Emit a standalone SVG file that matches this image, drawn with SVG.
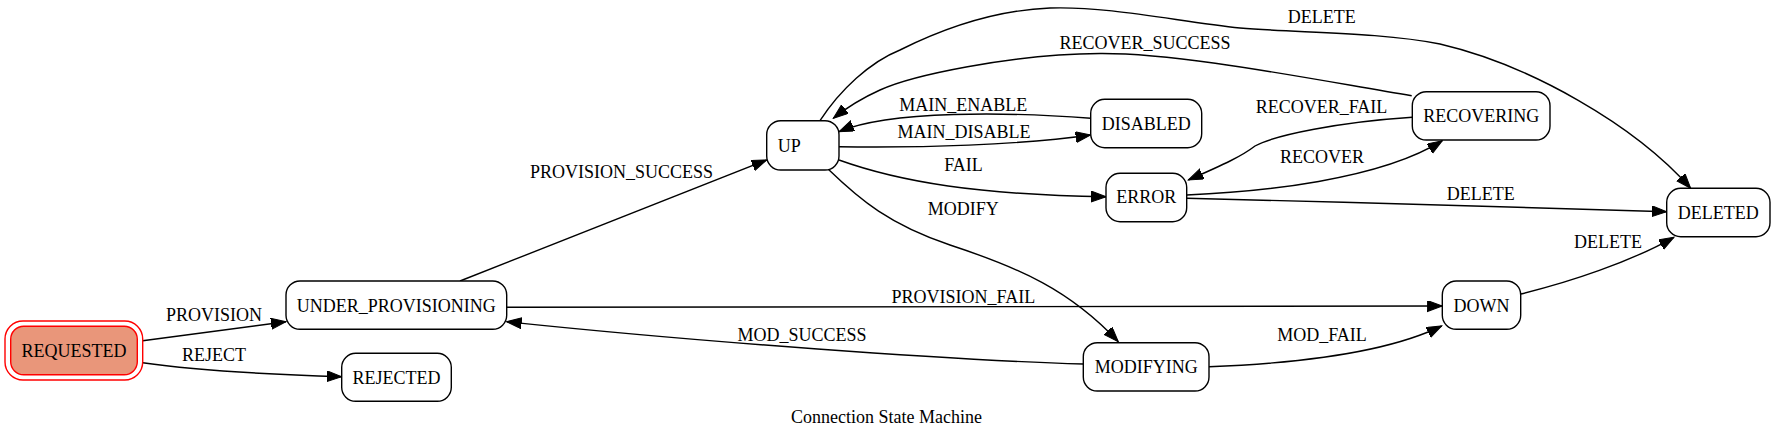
<svg xmlns="http://www.w3.org/2000/svg" width="1774" height="439" viewBox="0 0 1774 439">
<style>
text{font-family:"Liberation Serif","Times New Roman",serif;font-size:18px;fill:#000;text-anchor:middle}
.n{fill:#fff;stroke:#000;stroke-width:1.4}
.e{fill:none;stroke:#000;stroke-width:1.4;marker-end:url(#ah)}
</style>
<defs>
<marker id="ah" markerUnits="userSpaceOnUse" markerWidth="16" markerHeight="12" refX="15" refY="5.5" orient="auto">
<path d="M0,0 L15,5.5 L0,11 Z" fill="#000" stroke="#000" stroke-width="1"/>
</marker>
</defs>
<rect width="1774" height="439" fill="#fff"/>
<g id="connectors">
<path class="e" d="M142.7,340.7 L286,321.7"/>
<path class="e" d="M142.7,362.7 C200,371 270,374.5 341.7,376.7"/>
<path class="e" d="M460,281 L766.7,160"/>
<path class="e" d="M506.7,307.3 C800,309 1100,308 1442.3,306"/>
<path class="e" d="M1083.3,364 C950,360 700,342 506.7,321.7"/>
<path class="e" d="M1209,366.7 C1280,364 1380,356 1441.7,326"/>
<path class="e" d="M1520.7,294 C1570,282 1630,262 1674,237.3"/>
<path class="e" d="M1186.7,198.3 C1350,202 1550,208 1666.7,211.7"/>
<path class="e" d="M1186.7,195 C1260,192 1380,180 1442.3,140.7"/>
<path class="e" d="M1412.3,117.3 C1340,122 1275,135 1255,146 C1242,156 1225,164 1188.3,180"/>
<path class="e" d="M1411.7,95.7 C1300,77 1180,53 1100,53.5 C1010,54 910,76 880,90 C860,99 845,109 833.3,118.3"/>
<path class="e" d="M820,120.7 C840,90 870,62 900,50 C950,25 1000,10 1050,8 C1110,6 1180,22 1240,28 C1300,33 1380,32 1440,44 C1530,65 1635,125 1690.7,188.3"/>
<path class="e" d="M1090.7,118.3 C1010,112 890,110 839,131.7"/>
<path class="e" d="M839,146.7 C920,148 1020,145 1090.7,135"/>
<path class="e" d="M839,160 C900,182 980,195 1106,196.7"/>
<path class="e" d="M828.3,169.3 C860,200 890,225 950,245 C1020,268 1070,290 1118.3,341.7"/>
<text x="214" y="320.7">PROVISION</text>
<text x="214" y="360.7">REJECT</text>
<text x="621.5" y="178.3">PROVISION_SUCCESS</text>
<text x="963.3" y="303.3">PROVISION_FAIL</text>
<text x="802" y="340.7">MOD_SUCCESS</text>
<text x="1322" y="340.7">MOD_FAIL</text>
<text x="1608" y="248.3">DELETE</text>
<text x="1480.7" y="200">DELETE</text>
<text x="1322" y="163.3">RECOVER</text>
<text x="1321.5" y="113.3">RECOVER_FAIL</text>
<text x="1145" y="49.3">RECOVER_SUCCESS</text>
<text x="1321.7" y="23.3">DELETE</text>
<text x="963.3" y="111">MAIN_ENABLE</text>
<text x="964" y="138.3">MAIN_DISABLE</text>
<text x="963.5" y="171">FAIL</text>
<text x="963.3" y="215">MODIFY</text>
</g>
<g id="REQUESTED">
<rect x="5" y="321" width="137.7" height="59" rx="18" fill="none" stroke="#ff0000" stroke-width="1.4"/>
<rect x="10.7" y="326.3" width="126.6" height="48.4" rx="13" fill="#e9967a" stroke="#ff0000" stroke-width="1.4"/>
<text x="74" y="356.7">REQUESTED</text>
</g>
<g id="UNDER_PROVISIONING">
<rect class="n" x="286" y="281" width="220.7" height="48.3" rx="14"/>
<text x="396.3" y="311.7">UNDER_PROVISIONING</text>
</g>
<g id="REJECTED">
<rect class="n" x="341.7" y="353.3" width="109.6" height="48" rx="14"/>
<text x="396.5" y="384">REJECTED</text>
</g>
<g id="UP">
<rect class="n" x="766.7" y="120.7" width="72.3" height="49.3" rx="14"/>
<text x="789.2" y="151.7">UP</text>
</g>
<g id="DISABLED">
<rect class="n" x="1090.7" y="99.3" width="111" height="48.4" rx="14"/>
<text x="1146.2" y="130">DISABLED</text>
</g>
<g id="ERROR">
<rect class="n" x="1106" y="173.3" width="80.7" height="48.4" rx="14"/>
<text x="1146.3" y="203.3">ERROR</text>
</g>
<g id="RECOVERING">
<rect class="n" x="1412.3" y="91.7" width="137.7" height="48.3" rx="14"/>
<text x="1481.2" y="121.7">RECOVERING</text>
</g>
<g id="DELETED">
<rect class="n" x="1666.7" y="188.3" width="103.3" height="48.4" rx="14"/>
<text x="1718.3" y="219">DELETED</text>
</g>
<g id="DOWN">
<rect class="n" x="1442.3" y="281" width="78.4" height="48.3" rx="14"/>
<text x="1481.5" y="311.7">DOWN</text>
</g>
<g id="MODIFYING">
<rect class="n" x="1083.3" y="342.7" width="125.7" height="48.3" rx="14"/>
<text x="1146.2" y="372.7">MODIFYING</text>
</g>
<text id="title" x="886.5" y="423.3">Connection State Machine</text>
</svg>
